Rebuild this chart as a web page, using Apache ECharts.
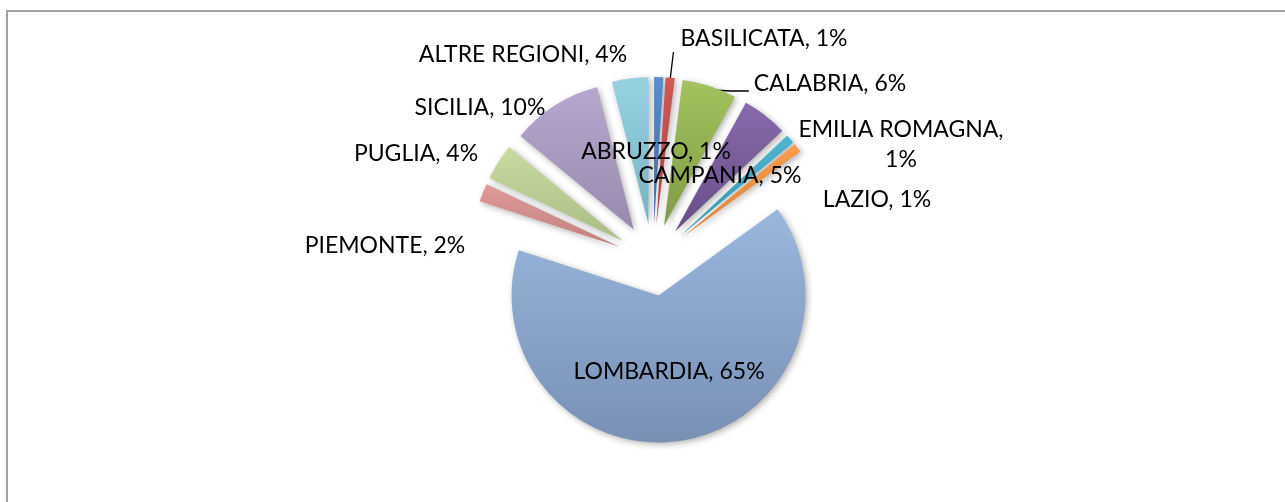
<!DOCTYPE html>
<html>
<head>
<meta charset="utf-8">
<script src="https://cdn.jsdelivr.net/npm/echarts@6/dist/echarts.min.js"></script>
<style>
  html, body { margin: 0; padding: 0; background: #fff; }
  #chart { width: 1285px; height: 502px; }
  .frame { position: absolute; left: 6px; top: 10px; width: 1300px; height: 520px; border: 2px solid #a0a0a0; box-sizing: border-box; pointer-events: none; }
</style>
</head>
<body>
<div id="chart"></div>
<div class="frame"></div>
<script>
// regioni e quote (%), in ordine orario dalle ore 12
const regioni = ['ABRUZZO', 'BASILICATA', 'CALABRIA', 'CAMPANIA', 'EMILIA ROMAGNA', 'LAZIO',
  'LOMBARDIA', 'PIEMONTE', 'PUGLIA', 'SICILIA', 'ALTRE REGIONI']
const quote = [1, 1, 6, 5, 1, 1, 65, 2, 4, 10, 4]
// colori [alto, basso] per il gradiente di ogni fetta
const colori = [
  ['#5a8fd0', '#3d6aa3'],
  ['#d05a56', '#a8403d'],
  ['#a2c35f', '#7f9b45'],
  ['#876aaa', '#674e88'],
  ['#4fb5d0', '#3a94ac'],
  ['#fb9c4b', '#dc7f33'],
  ['#9ab7de', '#7990b5'],
  ['#df9b99', '#c07f7d'],
  ['#c8dba1', '#a9bd84'],
  ['#b7a7cf', '#988aad'],
  ['#97d2e3', '#78b2c3']
]
// posizione delle etichette (centro), in pixel
const posEtichette = [
  [656, 152], [764, 39], [830, 84], [720, 176], [901, 145], [877, 200],
  [669, 372], [385, 246], [416, 154], [480, 108], [523, 55]
]
// etichette con linea guida: fine della linea rispetto al bordo sinistro dell'etichetta
const lineeGuida = {
  'BASILICATA': { fine: [-7, 13], piega: false },
  'CALABRIA': { fine: [-5, 7], piega: true }
}

const centro = [653, 260]
const raggio = 147
const esplosione = 36

const chart = echarts.init(document.getElementById('chart'))

// una serie per fetta, così ogni fetta si sposta lungo la sua bisettrice
const totale = quote.reduce((a, b) => a + b, 0)
let cumulata = 0
const series = regioni.map((nome, k) => {
  const meta = (cumulata + quote[k] / 2) / totale * Math.PI * 2
  cumulata += quote[k]
  const cx = centro[0] + esplosione * Math.sin(meta)
  const cy = centro[1] - esplosione * Math.cos(meta)
  const guida = lineeGuida[nome]
  return {
    type: 'pie',
    center: [cx, cy],
    radius: raggio,
    startAngle: 90,
    clockwise: true,
    avoidLabelOverlap: false,
    emphasis: { disabled: true },
    label: {
      show: true,
      position: 'outside',
      formatter: nome === 'EMILIA ROMAGNA' ? '{b},\n{d}%' : '{b}, {d}%',
      color: '#000',
      fontFamily: 'Lato',
      fontSize: 23,
      lineHeight: 30
    },
    labelLine: {
      show: !!guida,
      length: 10,
      length2: 10,
      lineStyle: { color: '#000', width: 1.3 }
    },
    labelLayout: function (params) {
      const p = posEtichette[k]
      const out = { x: p[0], y: p[1], align: 'center', verticalAlign: 'middle' }
      if (guida) {
        const inizio = [cx + (raggio - 4) * Math.sin(meta), cy - (raggio - 4) * Math.cos(meta)]
        const sx = p[0] - params.labelRect.width / 2
        const fine = [sx + guida.fine[0], p[1] + guida.fine[1]]
        const mezzo = guida.piega
          ? [fine[0] - 18, fine[1]]
          : [(inizio[0] + fine[0]) / 2, (inizio[1] + fine[1]) / 2]
        out.labelLinePoints = [inizio, mezzo, fine]
      }
      return out
    },
    data: regioni.map((n, i) => {
      if (i !== k) {
        return {
          name: n, value: quote[i],
          itemStyle: { color: 'rgba(0,0,0,0)' },
          label: { show: false }, labelLine: { show: false }
        }
      }
      return {
        name: n, value: quote[i],
        itemStyle: {
          color: new echarts.graphic.LinearGradient(0, 0, 0, 1, [
            { offset: 0, color: colori[i][0] },
            { offset: 1, color: colori[i][1] }
          ]),
          shadowBlur: 6,
          shadowOffsetX: 2,
          shadowOffsetY: 2,
          shadowColor: 'rgba(0,0,0,0.3)'
        }
      }
    })
  }
})

chart.setOption({
  animation: false,
  series: series
})
</script>
</body>
</html>
